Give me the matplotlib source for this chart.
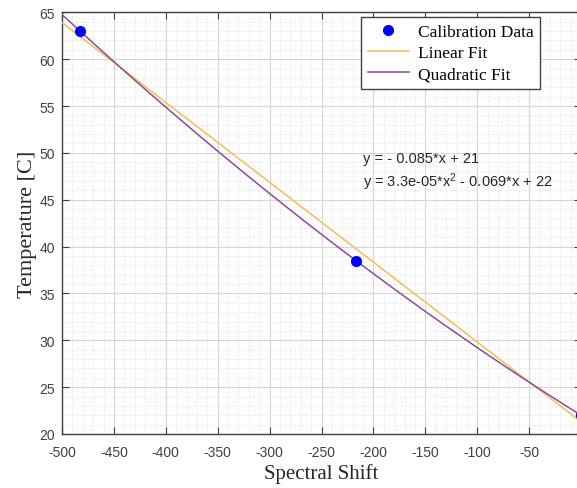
import numpy as np
import matplotlib
matplotlib.use("Agg")
import matplotlib.pyplot as plt
from matplotlib.ticker import MultipleLocator

# Data
spectral_shift = [-482.7, -216.8, 0.0]
temperature = [63.0, 38.5, 22.0]
eq_linear = "y = - 0.085*x + 21"
eq_quad = "y = 3.3e-05*x$^{2}$ - 0.069*x + 22"
legend_labels = ["Calibration Data", "Linear Fit", "Quadratic Fit"]
xlabel = "Spectral Shift"
ylabel = "Temperature [C]"

plt.rcParams["mathtext.default"] = "regular"
plt.rcParams["axes.unicode_minus"] = False

fig = plt.figure(figsize=(5.77, 4.89), dpi=100)
L, R, T, B = 62, 581, 13.3, 435.0
W, H = 577, 489
ax = fig.add_axes([L / W, 1 - B / H, (R - L) / W, (B - T) / H])

xs = np.array(spectral_shift)
ys = np.array(temperature)
p1 = np.polyfit(xs, ys, 1)
p2 = np.polyfit(xs, ys, 2)
xf = np.linspace(-500, 0, 400)

ax.plot(xs, ys, "o", color="#0000ff", markersize=7, label=legend_labels[0], zorder=4)
ax.plot(xf, np.polyval(p1, xf), color="#EFBE5A", lw=1.1, label=legend_labels[1], zorder=3)
ax.plot(xf, np.polyval(p2, xf), color="#8A4C98", lw=1.1, label=legend_labels[2], zorder=3)

ax.set_xlim(-500, 0)
ax.set_ylim(20, 65)
ax.xaxis.set_major_locator(MultipleLocator(50))
ax.yaxis.set_major_locator(MultipleLocator(5))
ax.xaxis.set_minor_locator(MultipleLocator(10))
ax.yaxis.set_minor_locator(MultipleLocator(1))
ax.grid(True, which="major", color="#d6d6d6", lw=0.8, ls="-")
ax.grid(True, which="minor", color="#d8d8d8", lw=0.6, ls=(0, (1, 2)))
ax.set_axisbelow(True)

ax.tick_params(which="major", direction="in", length=5, width=0.8, top=True, right=True,
               colors="#404040", labelsize=10, labelcolor="#404040")
ax.tick_params(axis="x", which="major", pad=8)
ax.tick_params(axis="y", which="major", pad=5)
ax.tick_params(which="minor", length=0)
for lab in ax.get_xticklabels() + ax.get_yticklabels():
    lab.set_family("Liberation Sans")
for s in ax.spines.values():
    s.set_color("#404040")
    s.set_linewidth(1.0)

ax.set_xlabel(xlabel, family="Liberation Serif", fontsize=15, color="#262626", labelpad=3)
ax.set_ylabel(ylabel, family="Liberation Serif", fontsize=16, color="#262626", labelpad=2)

ax.text(-210, 49.5, eq_linear, family="Liberation Sans", fontsize=10.5, color="#262626",
        va="center", ha="left")
ax.text(-210, 47.0, eq_quad, family="Liberation Sans", fontsize=10.5, color="#262626",
        va="center", ha="left")

leg = ax.legend(loc="upper left", bbox_to_anchor=(361 / W, 1 - 18 / H),
                bbox_transform=fig.transFigure, borderaxespad=0, fancybox=False,
                edgecolor="#404040", framealpha=1, handlelength=2.4, handletextpad=0.5,
                labelspacing=0.3, borderpad=0.38,
                prop={"family": "Liberation Serif", "size": 12.5})
leg.get_frame().set_linewidth(1.0)

fig.savefig("out.png", dpi=100)
